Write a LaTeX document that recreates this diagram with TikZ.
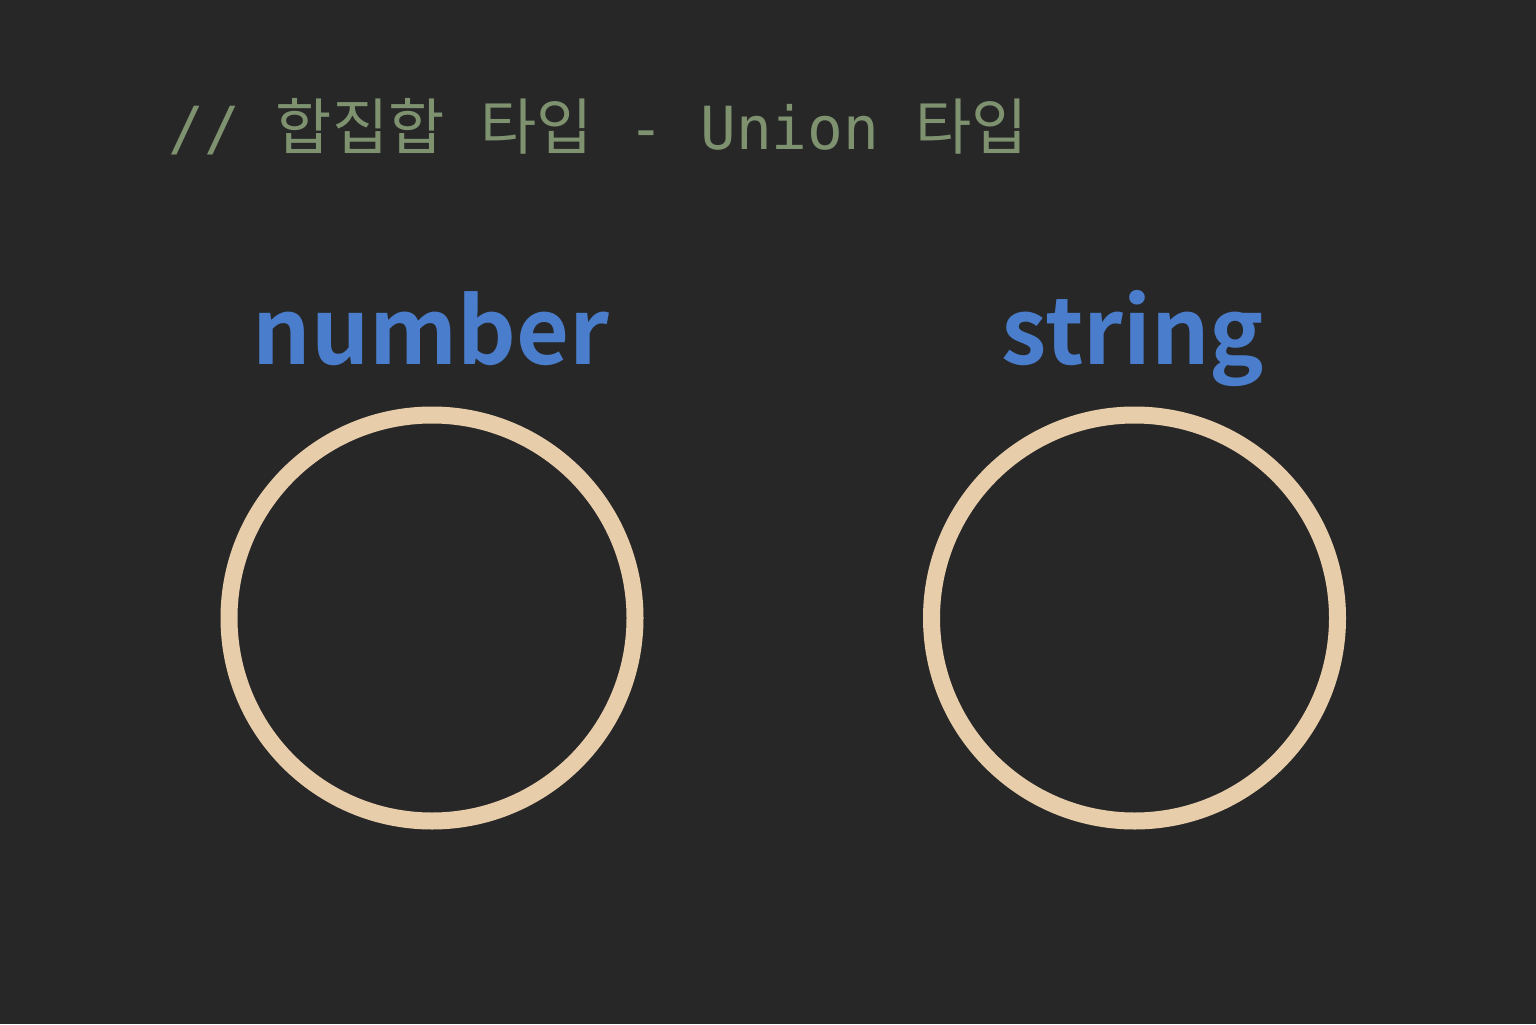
\documentclass[tikz,border=0pt]{standalone}
\usepackage{fontspec}
\usetikzlibrary{positioning}
\newfontfamily\cjk[Scale=1.03]{Noto Sans CJK KR}
\newfontfamily\cjkbold{Noto Sans CJK KR Bold}
\newfontfamily\monofont{DejaVu Sans Mono}
\definecolor{bgdark}{HTML}{272727}
\definecolor{commentgreen}{HTML}{7E9270}
\definecolor{typeblue}{HTML}{4A7DCB}
\definecolor{ringsand}{HTML}{E8CDAA}

\begin{document}
\begin{tikzpicture}[
  typelabel/.style={font=\cjkbold\fontsize{26}{30}\selectfont, text=typeblue, inner sep=0pt, anchor=base},
  setring/.style={circle, draw=ringsand, line width=0.17cm, minimum size=4.06cm, inner sep=0pt}
]

% Background
\fill[bgdark] (0,0) rectangle (15.36,10.24);

% Comment line
\node[font=\monofont\fontsize{16.9}{20}\selectfont, text=commentgreen, inner sep=0pt, anchor=base west]
  (comment) at (1.68,8.74) {// {\cjk 합집합} {\cjk 타입} - Union {\cjk 타입}};

% Type labels
\node[typelabel] (number-label) at (4.31,6.6) {number};
\node[typelabel] (string-label) at (11.33,6.6) {string};

% Sets
\node[setring] (number-set) at (4.32,4.06) {};
\node[setring] (string-set) at (11.345,4.06) {};

\end{tikzpicture}
\end{document}
